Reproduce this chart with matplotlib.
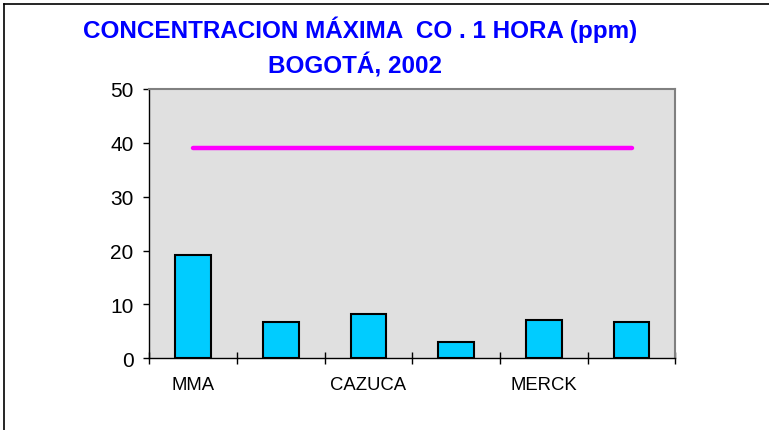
import matplotlib
matplotlib.use("Agg")
import matplotlib.pyplot as plt
from matplotlib.lines import Line2D

categories = ["MMA", "", "CAZUCA", "", "MERCK", ""]
values = [19.2, 6.7, 8.2, 3.1, 7.1, 6.7]
norm_value = 39.0
y_ticks = [0, 10, 20, 30, 40, 50]
title1 = "CONCENTRACION MÁXIMA  CO . 1 HORA (ppm)"
title2 = "BOGOTÁ, 2002"

plt.rcParams['font.family'] = ['Liberation Sans', 'DejaVu Sans']

fig = plt.figure(figsize=(7.69, 4.31), dpi=100)
ax = fig.add_axes([0.1942, 0.1664, 0.6840, 0.6248])
ax.set_facecolor("#E0E0E0")

x = list(range(len(categories)))
ax.bar(x, values, width=0.41, color="#00CCFF", edgecolor="black", linewidth=1.5, zorder=3)
ax.plot([x[0], x[-1]], [norm_value, norm_value], color="#FF00FF", linewidth=3.2,
        solid_capstyle="round", zorder=4)

ax.set_xlim(-0.5, len(categories) - 0.5)
ax.set_ylim(0, 50)
ax.set_yticks(y_ticks)
ax.set_yticklabels([str(t) for t in y_ticks], fontsize=15)
ax.tick_params(axis="y", direction="out", length=4.3, width=1, pad=7)

# x ticks at category boundaries, labels at category centers
ax.set_xticks([i - 0.5 for i in range(len(categories) + 1)])
ax.set_xticklabels([])
ax.tick_params(axis="x", which="major", direction="inout", length=8.5, width=1)
ax.set_xticks(x, minor=True)
ax.set_xticklabels(categories, minor=True, fontsize=13.3)
ax.tick_params(axis="x", which="minor", length=0, pad=13)

for s in ["top", "right"]:
    ax.spines[s].set_color("#808080")
    ax.spines[s].set_linewidth(1.5)
for s in ["left", "bottom"]:
    ax.spines[s].set_color("black")
    ax.spines[s].set_linewidth(1.0)

fig.text(359.7 / 769, 1 - 38.3 / 431, title1, ha="center", va="baseline", fontsize=17.5,
         fontweight="bold", color="#0000FF")
fig.text(355 / 769, 1 - 73.3 / 431, title2, ha="center", va="baseline", fontsize=17.5,
         fontweight="bold", color="#0000FF")

# figure border (top and left)
fig.add_artist(Line2D([4 / 769, 4 / 769], [0, 1 - 5 / 431], transform=fig.transFigure,
                      color="black", linewidth=1.2))
fig.add_artist(Line2D([4 / 769, 1], [1 - 5 / 431, 1 - 5 / 431], transform=fig.transFigure,
                      color="black", linewidth=1.2))

fig.savefig("out.png", dpi=100)
